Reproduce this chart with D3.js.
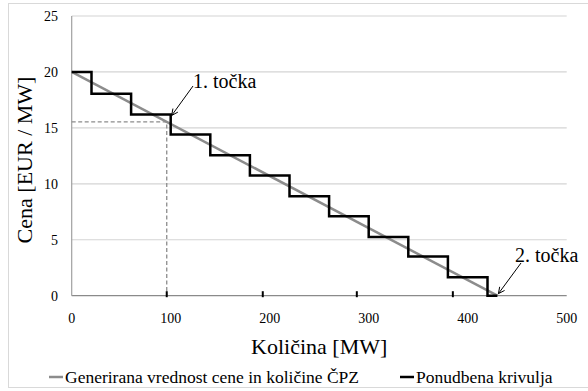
<!DOCTYPE html>
<meta charset="UTF-8">
<style>body { margin: 0; background: #fff; }</style>
<svg width="588" height="391"></svg>
<script src="https://cdn.jsdelivr.net/npm/d3@7/dist/d3.min.js"></script>
<script>

// offer curve (step starts) and the generated price/quantity line
var stepQty   = [0, 20, 60, 100, 140, 180, 220, 260, 300, 340, 380, 420, 430];
var stepPrice = [20, 18.05, 16.2, 14.4, 12.55, 10.75, 8.9, 7.1, 5.25, 3.5, 1.65, 0, 0];
var genQty    = [0, 430];
var genPrice  = [20, 0];
var point1    = [96, 15.53];
var arrow1    = [100, 16.2];
var arrow2    = [430, 0];
var axisMarks = [96, 193, 288, 385];
var xTicks    = [0, 100, 200, 300, 400, 500];
var yTicks    = [0, 5, 10, 15, 20, 25];
var legendNames = ["Generirana vrednost cene in količine ČPZ", "Ponudbena krivulja"];

var serif = "'Liberation Serif', 'Times New Roman', serif";
var svg = d3.select("svg");

var x = d3.scaleLinear().domain([0, 500]).range([71.7, 566.7]),
    y = d3.scaleLinear().domain([0, 25]).range([295.7, 16]);

function label(sel, size) {
  return sel.style("font-family", serif).style("font-size", size + "px").attr("fill", "#000");
}

// outer chart border (right side falls outside the picture)
svg.append("rect")
    .attr("x", 8.5).attr("y", 3.5).attr("width", 600).attr("height", 384)
    .attr("fill", "none").attr("stroke", "#d9d9d9");

// gridlines
svg.append("g").selectAll("line").data(yTicks.slice(1)).join("line")
    .attr("x1", x(0)).attr("x2", x(500))
    .attr("y1", d => y(d)).attr("y2", d => y(d))
    .attr("stroke", "#d4d4d4").attr("stroke-width", 1.2);

// axis lines
svg.append("line").attr("x1", x(0)).attr("x2", x(500)).attr("y1", y(0)).attr("y2", y(0))
    .attr("stroke", "#8a8a8a").attr("stroke-width", 1.2);
svg.append("line").attr("x1", x(0)).attr("x2", x(0)).attr("y1", y(0)).attr("y2", y(25))
    .attr("stroke", "#a0a0a0").attr("stroke-width", 1.2);

// tick labels
label(svg.append("g").selectAll("text").data(yTicks).join("text"), 14)
    .attr("x", 58).attr("y", d => y(d)).attr("dy", "0.35em")
    .attr("text-anchor", "end").text(d => d);
label(svg.append("g").selectAll("text").data(xTicks).join("text"), 14)
    .attr("x", d => x(d)).attr("y", 318).attr("dy", "0.35em")
    .attr("text-anchor", "middle").text(d => d);

// axis titles
label(svg.append("text"), 22).attr("transform", "translate(32,160) rotate(-90)")
    .attr("text-anchor", "middle").text("Cena [EUR / MW]");
label(svg.append("text"), 22).attr("x", (x(0) + x(500)) / 2).attr("y", 354)
    .attr("text-anchor", "middle").text("Količina [MW]");

// generated line
var line = d3.line().x(d => x(d[0])).y(d => y(d[1]));
svg.append("path").datum(d3.zip(genQty, genPrice)).attr("d", line)
    .attr("fill", "none").attr("stroke", "#8c8c8c").attr("stroke-width", 2.5);

// dashed guides to point 1
svg.append("path").datum([[0, point1[1]], point1, [point1[0], 0]]).attr("d", line)
    .attr("fill", "none").attr("stroke", "#8c8c8c").attr("stroke-width", 1.3)
    .attr("stroke-dasharray", "4,2.5");

// offer curve
var step = d3.line().curve(d3.curveStepAfter).x(d => x(d[0])).y(d => y(d[1]));
svg.append("path").datum(d3.zip(stepQty, stepPrice)).attr("d", step)
    .attr("fill", "none").attr("stroke", "#000").attr("stroke-width", 2.5);

// small marks on the x axis
svg.append("g").selectAll("line").data(axisMarks).join("line")
    .attr("x1", d => x(d)).attr("x2", d => x(d))
    .attr("y1", y(0) - 4.5).attr("y2", y(0) + 1.5)
    .attr("stroke", "#000").attr("stroke-width", 2);

// annotations
function arrow(from, tip) {
  var ang = Math.atan2(tip[1] - from[1], tip[0] - from[0]), L = 7, a = 0.45;
  svg.append("line").attr("x1", from[0]).attr("y1", from[1]).attr("x2", tip[0]).attr("y2", tip[1])
      .attr("stroke", "#000").attr("stroke-width", 1);
  svg.append("path")
      .attr("d", "M" + (tip[0] - L * Math.cos(ang - a)) + "," + (tip[1] - L * Math.sin(ang - a)) +
                 "L" + tip[0] + "," + tip[1] +
                 "L" + (tip[0] - L * Math.cos(ang + a)) + "," + (tip[1] - L * Math.sin(ang + a)))
      .attr("fill", "none").attr("stroke", "#000").attr("stroke-width", 1);
}
arrow([193, 86], [x(arrow1[0]) + 1, y(arrow1[1]) + 1]);
label(svg.append("text"), 20).attr("x", 193).attr("y", 88).text("1. točka");
arrow([521, 263], [x(arrow2[0]) + 1, y(arrow2[1]) - 2]);
label(svg.append("text"), 20).attr("x", 515).attr("y", 262).text("2. točka");

// legend
var leg = svg.append("g");
[[49, "#8c8c8c"], [400, "#000"]].forEach(function (l, i) {
  leg.append("line").attr("x1", l[0]).attr("x2", l[0] + 14).attr("y1", 377).attr("y2", 377)
      .attr("stroke", l[1]).attr("stroke-width", 2.5);
  label(leg.append("text"), 17.5).attr("x", l[0] + 16).attr("y", 383).text(legendNames[i]);
});

</script>
